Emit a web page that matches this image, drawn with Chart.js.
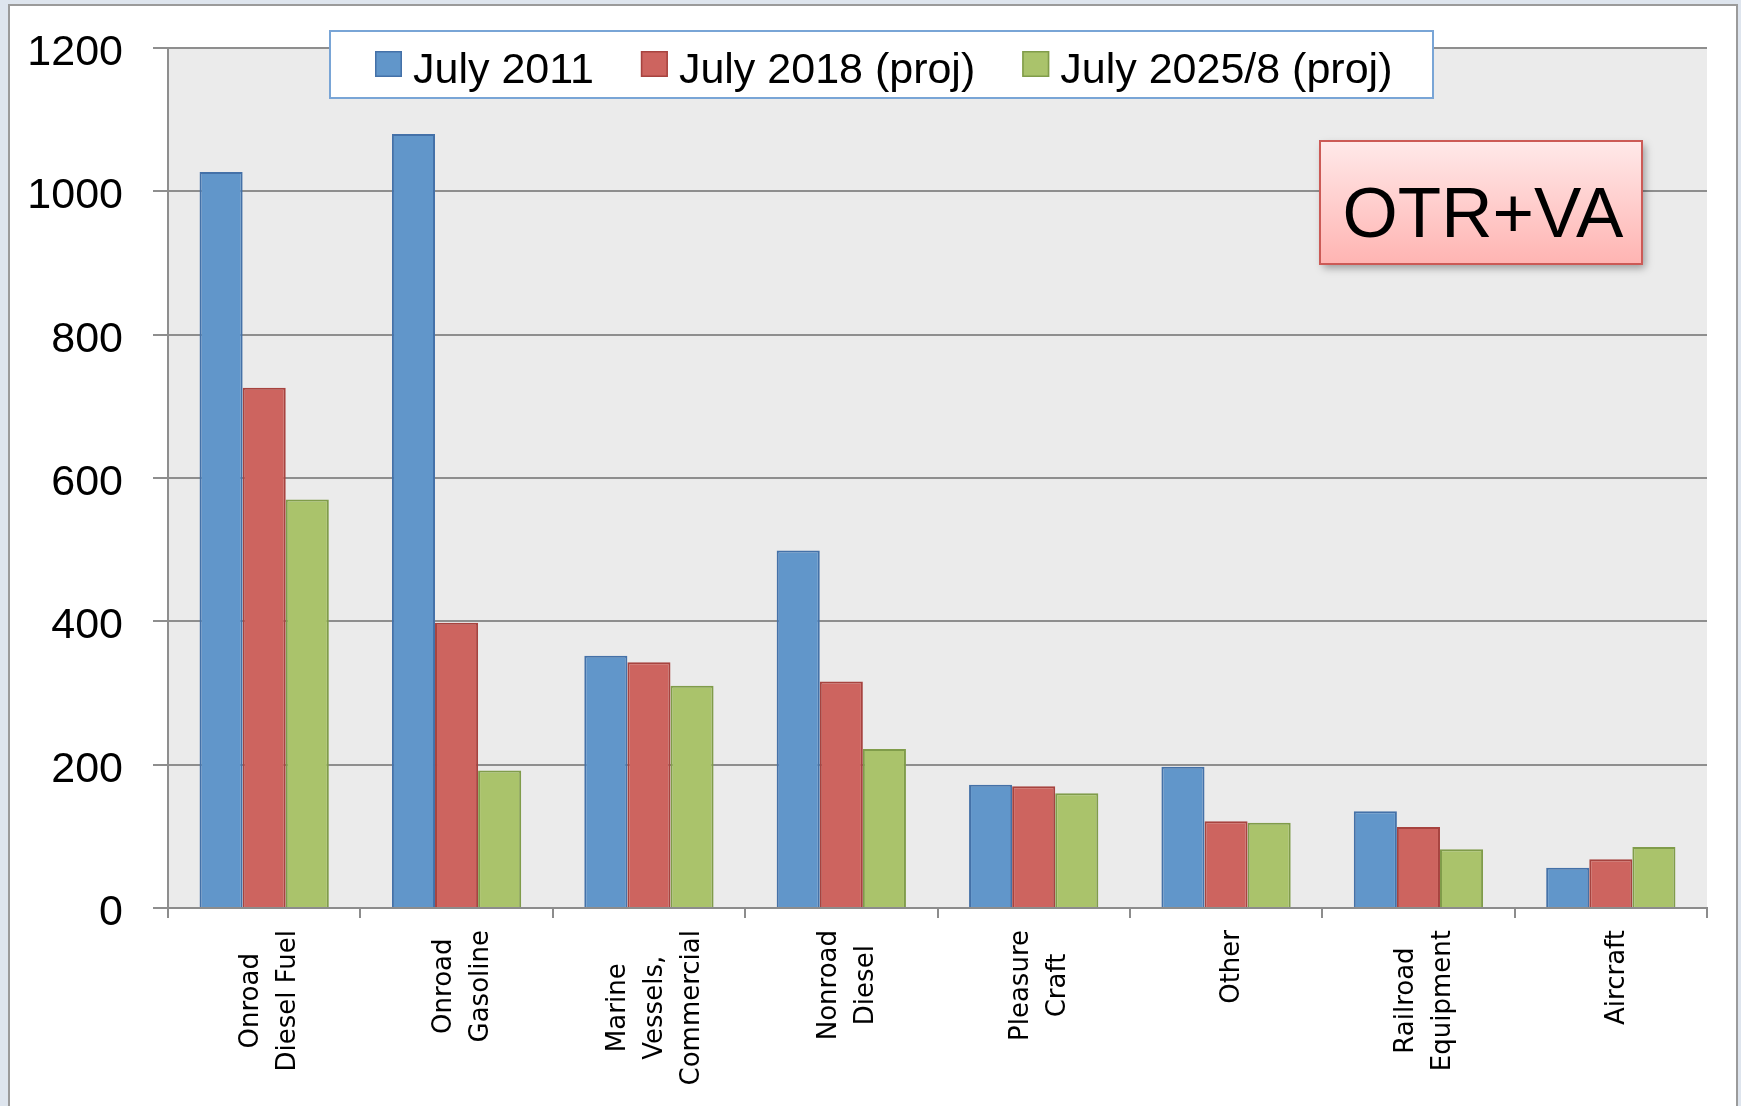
<!DOCTYPE html>
<html>
<head>
<meta charset="utf-8">
<script src="https://cdn.jsdelivr.net/npm/chart.js@4.4.1/dist/chart.umd.min.js"></script>
<style>
  html, body { margin: 0; padding: 0; background: #dee5ee; }
</style>
</head>
<body>
<canvas id="myChart" width="1741" height="1106"></canvas>
<script>
// data
const categories = [
  ["Onroad", "Diesel Fuel"],
  ["Onroad", "Gasoline"],
  ["Marine", "Vessels,", "Commercial"],
  ["Nonroad", "Diesel"],
  ["Pleasure", "Craft"],
  ["Other"],
  ["Railroad", "Equipment"],
  ["Aircraft"],
];
const seriesNames = ["July 2011", "July 2018 (proj)", "July 2025/8 (proj)"];
const july2011 = [1027, 1080, 352, 499, 172, 197, 135, 56];
const july2018 = [726, 398, 343, 316, 170, 121, 113, 68];
const july2025 = [570, 192, 310, 222, 160, 119, 82, 85];
const yMin = 0;
const yMax = 1200;
const yStep = 200;
const boxLabel = "OTR+VA";

const labelFont = '"Liberation Sans", Arial, sans-serif';
const catFont = '"DejaVu Sans", Verdana, sans-serif';

// background, outer frame and grey plot area
const framePlugin = {
  id: "frame",
  beforeDraw(chart) {
    const ctx = chart.ctx;
    const area = chart.chartArea;
    ctx.save();
    ctx.fillStyle = "#dee5ee";
    ctx.fillRect(0, 0, chart.width, chart.height);
    ctx.fillStyle = "#ffffff";
    ctx.fillRect(9, 5, 1728, chart.height);
    ctx.strokeStyle = "#9b9b9b";
    ctx.lineWidth = 2;
    ctx.strokeRect(9, 5, 1728, chart.height + 20);
    ctx.fillStyle = "#ebebeb";
    ctx.fillRect(area.left, area.top, area.right - area.left, area.bottom - area.top);
    ctx.restore();
  },
};

// rotated category labels, lines centred on each other
const xLabelPlugin = {
  id: "xLabels",
  afterDraw(chart) {
    const ctx = chart.ctx;
    const xs = chart.scales.x;
    ctx.save();
    ctx.font = "26px " + catFont;
    ctx.fillStyle = "#000";
    ctx.textAlign = "center";
    ctx.textBaseline = "middle";
    chart.data.labels.forEach((lines, i) => {
      const cx = xs.getPixelForValue(i) + 6;
      const maxW = Math.max(...lines.map((l) => ctx.measureText(l).width));
      const cy = xs.top + 22 + maxW / 2;
      lines.forEach((line, j) => {
        const x = cx + (j - (lines.length - 1) / 2) * 37;
        ctx.save();
        ctx.translate(x, cy);
        ctx.rotate(-Math.PI / 2);
        ctx.fillText(line, 0, 0);
        ctx.restore();
      });
    });
    ctx.restore();
  },
};

// boxed legend overlapping the plot, and the OTR+VA tag
const legendPlugin = {
  id: "boxLegend",
  afterDraw(chart) {
    const ctx = chart.ctx;
    ctx.save();
    ctx.fillStyle = "#ffffff";
    ctx.fillRect(330, 31, 1103, 67);
    ctx.strokeStyle = "#79a5d6";
    ctx.lineWidth = 2;
    ctx.strokeRect(330, 31, 1103, 67);
    ctx.font = "43px " + labelFont;
    ctx.textAlign = "left";
    ctx.textBaseline = "alphabetic";
    let x = 375;
    chart.data.datasets.forEach((ds) => {
      ctx.fillStyle = ds.backgroundColor;
      ctx.fillRect(x, 51, 27, 26);
      ctx.strokeStyle = ds.borderColor;
      ctx.lineWidth = 1.5;
      ctx.strokeRect(x + 0.75, 51.75, 25.5, 24.5);
      ctx.fillStyle = "#000";
      ctx.fillText(ds.label, x + 38, 83);
      x += 38 + ctx.measureText(ds.label).width + 47;
    });

    // tag box
    ctx.shadowColor = "rgba(0,0,0,0.35)";
    ctx.shadowBlur = 8;
    ctx.shadowOffsetX = 3;
    ctx.shadowOffsetY = 4;
    const g = ctx.createLinearGradient(0, 141, 0, 264);
    g.addColorStop(0, "#ffe9e9");
    g.addColorStop(1, "#ffb4b2");
    ctx.fillStyle = g;
    ctx.fillRect(1320, 141, 322, 123);
    ctx.shadowColor = "transparent";
    ctx.strokeStyle = "#cc5a56";
    ctx.lineWidth = 2;
    ctx.strokeRect(1320, 141, 322, 123);
    ctx.fillStyle = "#000";
    ctx.font = "71px " + labelFont;
    ctx.textAlign = "center";
    ctx.fillText(boxLabel, 1483, 237);
    ctx.restore();
  },
};

const ctx = document.getElementById("myChart").getContext("2d");
new Chart(ctx, {
  type: "bar",
  data: {
    labels: categories,
    datasets: [
      {
        label: seriesNames[0],
        data: july2011,
        backgroundColor: "#6196ca",
        borderColor: "#4471a8",
        borderWidth: 2,
      },
      {
        label: seriesNames[1],
        data: july2018,
        backgroundColor: "#cd645f",
        borderColor: "#a7433f",
        borderWidth: 2,
      },
      {
        label: seriesNames[2],
        data: july2025,
        backgroundColor: "#aac36b",
        borderColor: "#809c4a",
        borderWidth: 2,
      },
    ],
  },
  options: {
    responsive: false,
    animation: false,
    categoryPercentage: 0.672,
    barPercentage: 1.0,
    layout: { padding: { top: 48, right: 34, left: 0, bottom: 0 } },
    plugins: {
      legend: { display: false },
      tooltip: { enabled: false },
    },
    scales: {
      x: {
        offset: true,
        ticks: { display: false },
        grid: {
          drawOnChartArea: false,
          drawTicks: true,
          tickLength: 10,
          color: "#8c8c8c",
          lineWidth: 2,
        },
        border: { color: "#8c8c8c", width: 2 },
        afterFit(scale) {
          scale.height = 198;
        },
      },
      y: {
        min: yMin,
        max: yMax,
        ticks: {
          stepSize: yStep,
          color: "#000",
          padding: 30,
          labelOffset: 5,
          font: { family: labelFont, size: 43 },
          callback: (v) => String(v),
        },
        grid: { color: "#8e8e8e", lineWidth: 2, tickLength: 15 },
        border: { color: "#8e8e8e", width: 2 },
        afterFit(scale) {
          scale.width = 168;
          scale.paddingTop = 0;
          scale.paddingBottom = 0;
        },
      },
    },
  },
  plugins: [framePlugin, xLabelPlugin, legendPlugin],
});
</script>
</body>
</html>
